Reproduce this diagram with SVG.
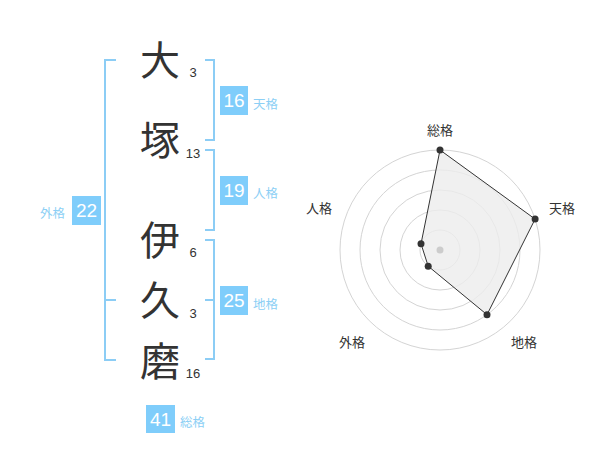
<svg xmlns="http://www.w3.org/2000/svg" width="600" height="470" viewBox="0 0 600 470">
<style>
.big{font-family:"Noto Sans CJK JP","Noto Sans CJK SC",sans-serif;font-size:40px;fill:#333;text-anchor:middle}
.num{font-family:"Liberation Sans",Arial,sans-serif;font-size:13px;fill:#333;text-anchor:middle}
.box{fill:#7fcdfb}
.bnum{font-family:"Liberation Sans",Arial,sans-serif;font-size:19px;fill:#fff;text-anchor:middle}
.lbl{font-family:"Noto Sans CJK JP","Noto Sans CJK SC",sans-serif;font-size:12.5px;fill:#8ccff5}
.br{fill:none;stroke:#8ccdf5;stroke-width:2}
.ring{fill:none;stroke:#d4d4d4;stroke-width:1}
.rl{font-family:"Noto Sans CJK JP","Noto Sans CJK SC",sans-serif;font-size:13px;fill:#333;text-anchor:middle}
.pt{fill:#333}
</style>
<g id="chars">
<text class="big" x="160" y="75">大</text>
<text class="big" x="160" y="155">塚</text>
<text class="big" x="160" y="255">伊</text>
<text class="big" x="160" y="315">久</text>
<text class="big" x="160" y="376">磨</text>
<text class="num" x="193" y="77">3</text>
<text class="num" x="193" y="158">13</text>
<text class="num" x="193" y="257">6</text>
<text class="num" x="193" y="318">3</text>
<text class="num" x="193" y="378">16</text>
</g>
<g id="connectors">
<path class="br" d="M116 60H105V360H116M105 300H116"/>
<path class="br" d="M205 60H214V140H205"/>
<path class="br" d="M205 150H214V230H205"/>
<path class="br" d="M205 240H214V359H205M205 300H214"/>
</g>
<g id="tenkaku">
<rect class="box" x="220" y="86" width="28" height="29"/>
<text class="bnum" x="234" y="107">16</text>
<text class="lbl" x="253" y="108.5">天格</text>
</g>
<g id="jinkaku">
<rect class="box" x="220" y="176" width="28" height="29"/>
<text class="bnum" x="234" y="197">19</text>
<text class="lbl" x="253" y="198">人格</text>
</g>
<g id="chikaku">
<rect class="box" x="220" y="286" width="28" height="29"/>
<text class="bnum" x="234" y="307">25</text>
<text class="lbl" x="253" y="309">地格</text>
</g>
<g id="gaikaku">
<rect class="box" x="72" y="196" width="29" height="29"/>
<text class="bnum" x="86.5" y="217">22</text>
<text class="lbl" x="65" y="217.5" text-anchor="end">外格</text>
</g>
<g id="soukaku">
<rect class="box" x="146" y="405" width="29" height="28"/>
<text class="bnum" x="160.5" y="426">41</text>
<text class="lbl" x="180" y="427">総格</text>
</g>
<g id="radar">
<circle class="ring" cx="440" cy="250" r="20"/>
<circle class="ring" cx="440" cy="250" r="40"/>
<circle class="ring" cx="440" cy="250" r="60"/>
<circle class="ring" cx="440" cy="250" r="80"/>
<circle class="ring" cx="440" cy="250" r="100"/>
<polygon points="440,150 535.1,219.1 487,314.7 428.2,266.2 421,243.8" fill="#ececec" fill-opacity="0.8" stroke="#333" stroke-width="1"/>
<circle cx="440" cy="250" r="3.5" fill="#ccc"/>
<circle class="pt" cx="440" cy="150" r="3.5"/>
<circle class="pt" cx="535.1" cy="219.1" r="3.5"/>
<circle class="pt" cx="487" cy="314.7" r="3.5"/>
<circle class="pt" cx="428.2" cy="266.2" r="3.5"/>
<circle class="pt" cx="421" cy="243.8" r="3.5"/>
<text class="rl" x="440" y="135">総格</text>
<text class="rl" x="562" y="212.5">天格</text>
<text class="rl" x="524" y="346.5">地格</text>
<text class="rl" x="352" y="346.5">外格</text>
<text class="rl" x="319" y="212.5">人格</text>
</g>
</svg>
